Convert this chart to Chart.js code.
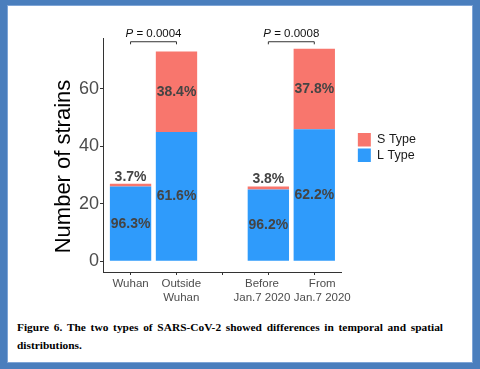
<!DOCTYPE html>
<html>
<head>
<meta charset="utf-8">
<script src="https://cdn.jsdelivr.net/npm/chart.js@4.4.1/dist/chart.umd.min.js"></script>
<style>
  html, body { margin: 0; padding: 0; background: #fff; }
  #frame { position: relative; width: 480px; height: 369px; background: #4a7ebd; overflow: hidden; }
  #paper { position: absolute; left: 8px; top: 6px; width: 464px; height: 356px; background: #fff; box-shadow: 0 0 0 1px #7fa5d6; }
  #strainChart { position: absolute; left: 0; top: 0; }
  #caption {
    position: absolute; left: 17px; top: 318px; width: 426px;
    font: bold 11.4px "Liberation Serif", "Times New Roman", serif;
    line-height: 18px; text-align: justify; color: #000;
  }
</style>
</head>
<body>
<div id="frame">
  <div id="paper"></div>
  <canvas id="strainChart" width="480" height="310"></canvas>
  <div id="caption">Figure 6. The two types of SARS-CoV-2 showed differences in temporal and spatial distributions.</div>
</div>
<script>
const categories = ['Wuhan', ['Outside', 'Wuhan'], '', ['Before', 'Jan.7 2020'], ['From', 'Jan.7 2020']];
const lType = [26, 45, null, 25, 46];
const sType = [1, 28, null, 1, 28];
const yTicks = [0, 20, 40, 60];
const pPairs = [[0, 1], [3, 4]];
const pLabels = ['0.0004', '0.0008'];

// the original labels are pushed a little apart so they don't collide (in spaces, + = right)
const labelNudge = [0, 3, 0, -4, 5];

const FONT = '"Liberation Sans", Arial, sans-serif';
Chart.defaults.font.family = FONT;

// bars sit on x = 1..5, the empty slot keeps the gap between the two groups
const toPoints = arr => arr.map((v, i) => v === null ? null : { x: i + 1, y: v }).filter(p => p);

function tickLabel(v) {
  const lab = categories[v - 1];
  const n = labelNudge[v - 1];
  const pad = ' '.repeat(Math.abs(n));
  const nudge = s => (n > 0 ? pad + s : s + pad);
  return Array.isArray(lab) ? lab.map(nudge) : nudge(lab);
}

// y axis title, drawn by hand so it can sit a bit lower than the panel centre
const yTitle = {
  id: 'yTitle',
  afterDraw(chart) {
    const ctx = chart.ctx;
    ctx.save();
    ctx.translate(70, 166.5);
    ctx.rotate(-Math.PI / 2);
    ctx.font = '22px ' + FONT;
    ctx.fillStyle = '#000';
    ctx.textAlign = 'center';
    ctx.textBaseline = 'alphabetic';
    ctx.fillText('Number of strains', 0, 0);
    ctx.restore();
  }
};

// percentage labels inside / above each segment
const barLabels = {
  id: 'barLabels',
  afterDatasetsDraw(chart) {
    const ctx = chart.ctx;
    ctx.save();
    ctx.font = 'bold 14px ' + FONT;
    ctx.fillStyle = '#444';
    ctx.textAlign = 'center';
    ctx.textBaseline = 'middle';
    chart.data.datasets.forEach((ds, di) => {
      chart.getDatasetMeta(di).data.forEach((bar, k) => {
        const pt = ds.data[k];
        const i = pt.x - 1;
        const total = lType[i] + sType[i];
        const text = (pt.y / total * 100).toFixed(1) + '%';
        const { x, y, base } = bar.getProps(['x', 'y', 'base'], true);
        const ty = (base - y) < 12 ? y - 7 : (y + base) / 2;
        ctx.fillText(text, x, ty);
      });
    });
    ctx.restore();
  }
};

// significance brackets
const brackets = {
  id: 'brackets',
  afterDraw(chart) {
    const { ctx, scales: { x, y } } = chart;
    const lineY = y.getPixelForValue(76.4);
    const tipY = y.getPixelForValue(75.5);
    const textY = y.getPixelForValue(78.2);
    ctx.save();
    ctx.strokeStyle = '#333';
    ctx.lineWidth = 1;
    ctx.fillStyle = '#111';
    pPairs.forEach(([a, b], n) => {
      const x0 = x.getPixelForValue(a + 1);
      const x1 = x.getPixelForValue(b + 1);
      ctx.beginPath();
      ctx.moveTo(x0, tipY);
      ctx.lineTo(x0, lineY);
      ctx.lineTo(x1, lineY);
      ctx.lineTo(x1, tipY);
      ctx.stroke();

      const italic = 'italic 11.5px ' + FONT;
      const normal = '11.5px ' + FONT;
      const rest = ' = ' + pLabels[n];
      ctx.font = italic;
      const wP = ctx.measureText('P').width;
      ctx.font = normal;
      const wR = ctx.measureText(rest).width;
      const start = (x0 + x1) / 2 - (wP + wR) / 2;
      ctx.textAlign = 'left';
      ctx.textBaseline = 'alphabetic';
      ctx.font = italic;
      ctx.fillText('P', start, textY);
      ctx.font = normal;
      ctx.fillText(rest, start + wP, textY);
    });
    ctx.restore();
  }
};

const ctx = document.getElementById('strainChart').getContext('2d');

new Chart(ctx, {
  type: 'bar',
  data: {
    datasets: [
      { label: 'L Type', data: toPoints(lType), backgroundColor: '#2f9bfb' },
      { label: 'S Type', data: toPoints(sType), backgroundColor: '#f8766d' }
    ]
  },
  options: {
    responsive: false,
    animation: false,
    barPercentage: 0.9,
    categoryPercentage: 1,
    layout: { padding: { left: 0, top: 38, right: 54, bottom: 0 } },
    scales: {
      x: {
        type: 'linear',
        stacked: true,
        offset: false,
        min: 0.4,
        max: 5.6,
        afterBuildTicks: s => { s.ticks = categories.map((c, i) => ({ value: i + 1 })); },
        afterFit: s => { s.height = 38; },
        ticks: {
          callback: tickLabel,
          color: '#4d4d4d',
          font: { size: 11.5 },
          padding: 2,
          autoSkip: false,
          maxRotation: 0,
          minRotation: 0
        },
        grid: { display: true, offset: false, drawOnChartArea: false, tickLength: 3, color: '#333' },
        border: { display: true, color: '#333', width: 1 }
      },
      y: {
        stacked: true,
        min: -3.7,
        max: 77.7,
        afterBuildTicks: s => { s.ticks = yTicks.map(v => ({ value: v })); },
        afterFit: s => { s.width = 103; },
        ticks: { color: '#4d4d4d', font: { size: 18 }, padding: 1 },
        grid: { display: true, drawOnChartArea: false, tickLength: 3, color: '#333' },
        border: { display: true, color: '#333', width: 1 }
      },
      pad: {
        position: 'right',
        display: true,
        grid: { display: false },
        ticks: { display: false },
        border: { display: false },
        afterFit: s => { s.width = 14; }
      }
    },
    plugins: {
      legend: {
        position: 'right',
        align: 'start',
        reverse: true,
        title: { display: true, text: '', font: { size: 10, lineHeight: 1 }, padding: { top: 83, bottom: 0 } },
        labels: {
          boxWidth: 13,
          boxHeight: 13.5,
          padding: 2,
          color: '#1a1a1a',
          font: { size: 12.5 }
        }
      },
      tooltip: { enabled: false }
    }
  },
  plugins: [yTitle, barLabels, brackets]
});
</script>
</body>
</html>
